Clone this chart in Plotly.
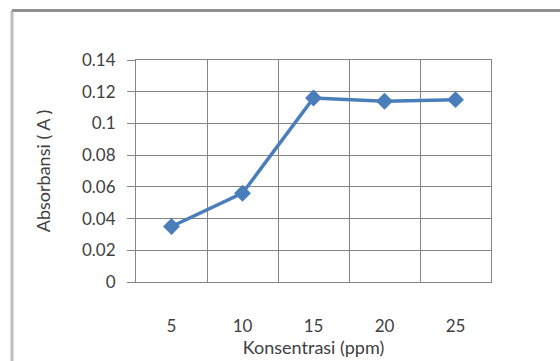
import plotly.graph_objects as go

konsentrasi = [5, 10, 15, 20, 25]
absorbansi = [0.035, 0.056, 0.116, 0.114, 0.115]
y_tickvals = [0, 0.02, 0.04, 0.06, 0.08, 0.1, 0.12, 0.14]
y_ticktext = ["0", "0.02", "0.04", "0.06", "0.08", "0.1", "0.12", "0.14"]
x_ticktext = ["5", "10", "15", "20", "25"]

FONT = "Lato"
blue = "#4a7ebb"
grid = "#858585"

fig = go.Figure()
fig.add_trace(go.Scatter(
    x=konsentrasi, y=absorbansi, mode="lines+markers",
    line=dict(color=blue, width=3.5),
    marker=dict(symbol="diamond", size=13, color=blue),
    showlegend=False,
))

fig.update_layout(
    width=560, height=361,
    margin=dict(l=136, r=69, t=60, b=77),
    paper_bgcolor="white", plot_bgcolor="white",
    font=dict(family=FONT, size=17, color="#404040"),
    xaxis=dict(
        range=[2.5, 27.5], tickvals=konsentrasi, ticktext=x_ticktext,
        showgrid=False, zeroline=False, ticks="",
        showline=True, mirror=True, linecolor=grid, linewidth=1,
        ticklabelstandoff=29,
        minor=dict(tick0=2.5, dtick=5, showgrid=True, gridcolor=grid, gridwidth=1),
        title=dict(text="Konsentrasi (ppm)", standoff=0, font=dict(size=18)),
    ),
    yaxis=dict(
        range=[0, 0.14], tickvals=y_tickvals, ticktext=y_ticktext,
        showgrid=True, gridcolor=grid, gridwidth=1, zeroline=False,
        ticks="outside", ticklen=8, tickcolor=grid,
        showline=True, mirror=True, linecolor=grid, linewidth=1,
        ticklabelstandoff=8,
        title=dict(text="Absorbansi ( A )", standoff=26, font=dict(size=18)),
    ),
    shapes=[
        dict(type="line", xref="paper", yref="paper",
             x0=(12 - 136) / 355, x1=(12 - 136) / 355, y0=(284 - 10) / 224, y1=-0.5,
             line=dict(color="#bdbdbd", width=3)),
        dict(type="line", xref="paper", yref="paper",
             x0=(12 - 136) / 355, x1=(560 - 136) / 355, y0=(284 - 10) / 224, y1=(284 - 10) / 224,
             line=dict(color="#8f8f8f", width=3)),
    ],
)

fig.write_html("out.html")
